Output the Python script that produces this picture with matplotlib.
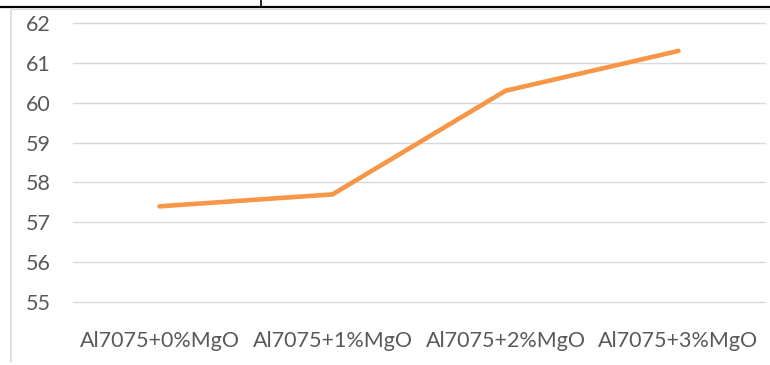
import matplotlib.pyplot as plt
from matplotlib.lines import Line2D

# Hardness of Al7075 with increasing MgO content
samples = ["Al7075+0%MgO", "Al7075+1%MgO", "Al7075+2%MgO", "Al7075+3%MgO"]
hardness = [57.4, 57.7, 60.3, 61.3]
y_ticks = [55, 56, 57, 58, 59, 60, 61, 62]

plt.rcParams['font.family'] = ['Lato', 'DejaVu Sans']

W, H = 770, 365
fig = plt.figure(figsize=(W / 100, H / 100), dpi=100)
ax = fig.add_axes([73 / W, 1 - 302 / H, (765 - 73) / W, (302 - 23) / H])

ax.plot(range(len(samples)), hardness, color="#F79646", lw=3.3,
        solid_capstyle="round", solid_joinstyle="round", zorder=3)

ax.set_xlim(-0.5, len(samples) - 0.5)
ax.set_ylim(55, 62)
ax.set_yticks(y_ticks)
ax.set_xticks(range(len(samples)))
ax.set_xticklabels(samples)
ax.grid(axis="y", color="#D9D9D9", lw=1.0)
for gl in ax.get_ygridlines():
    gl.set_clip_on(False)
ax.set_axisbelow(True)
for s in ax.spines.values():
    s.set_visible(False)
ax.tick_params(axis="both", length=0, labelsize=15.5, colors="#595959")
ax.tick_params(axis="y", pad=16)
ax.tick_params(axis="x", pad=21)

# frame lines around the chart
fig.add_artist(Line2D([0, 1], [1 - 6.5 / H, 1 - 6.5 / H], color="black", lw=1.6))
fig.add_artist(Line2D([261 / W, 261 / W], [1, 1 - 6.5 / H], color="black", lw=1.2))
fig.add_artist(Line2D([11 / W, 1], [1 - 9 / H, 1 - 9 / H], color="#D9D9D9", lw=0.8))
fig.add_artist(Line2D([11 / W, 11 / W], [1 - 9 / H, 1 - 362 / H], color="#D9D9D9", lw=1.2))

fig.savefig("out.png", dpi=100, facecolor="white")
